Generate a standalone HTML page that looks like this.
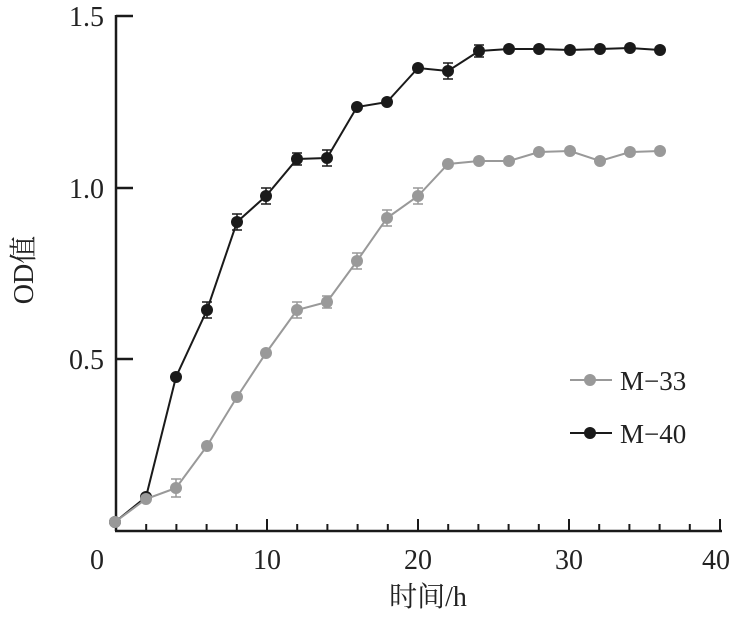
<!DOCTYPE html>
<html><head><meta charset="utf-8"><style>body{margin:0;background:#fff}svg{display:block}</style></head><body>
<svg width="737" height="630" xmlns="http://www.w3.org/2000/svg" font-family="'Liberation Serif','Noto Serif CJK SC',serif">
<g stroke="#1a1a1a" stroke-width="2.5" fill="none">
<line x1="116" y1="15" x2="116" y2="531"/>
<line x1="115" y1="531" x2="722" y2="531"/>
<line x1="116" y1="16" x2="133" y2="16"/>
<line x1="116" y1="188" x2="133" y2="188"/>
<line x1="116" y1="359" x2="133" y2="359"/>
</g>
<g stroke="#1a1a1a" stroke-width="2" id="ticks"></g>
<g font-size="28" fill="#222" text-anchor="end">
<text x="104" y="26">1.5</text><text x="104" y="198">1.0</text><text x="104" y="369">0.5</text></g>
<g font-size="28" fill="#222" text-anchor="middle">
<text x="97" y="569">0</text><text x="267" y="569">10</text><text x="418" y="569">20</text><text x="569" y="569">30</text><text x="716" y="569">40</text>
<text x="428" y="606">时间/h</text>
<text transform="translate(33,270) rotate(-90)">OD值</text></g>
<g id="s"></g>
<g font-size="27" fill="#222"><text x="620" y="390">M−33</text><text x="620" y="443">M−40</text></g>
<line x1="570" y1="380" x2="612" y2="380" stroke="#999" stroke-width="2"/><circle cx="590" cy="380" r="6" fill="#999"/>
<line x1="570" y1="433" x2="612" y2="433" stroke="#1a1a1a" stroke-width="2"/><circle cx="590" cy="433" r="6" fill="#1a1a1a"/>
<script>
var ns="http://www.w3.org/2000/svg",t=document.getElementById('ticks');
for(var i=1;i<=20;i++){var x=116+i*15.1*2,l=document.createElementNS(ns,'line');l.setAttribute('x1',x);l.setAttribute('x2',x);l.setAttribute('y1',531);l.setAttribute('y2',i%5==0?519:524);t.appendChild(l);}
var X=[115,146,176,207,237,266,297,327,357,387,418,448,479,509,539,570,600,630,660];
var A=[522,499,488,446,397,353,310,302,261,218,196,164,161,161,152,151,161,152,151];
var B=[522,497,377,310,222,196,159,158,107,102,68,71,51,49,49,50,49,48,50];
var EA=[0,3,7,3,3,3,6,4,6,6,6,3,3,3,3,3,3,3,3];
var EB=[0,3,3,6,6,6,4,6,3,3,3,6,4,3,3,3,3,3,3];
var g=document.getElementById('s');
function draw(Y,E,c){var p=X.map(function(x,i){return x+','+Y[i]}).join(' ');
var pl=document.createElementNS(ns,'polyline');pl.setAttribute('points',p);pl.setAttribute('fill','none');pl.setAttribute('stroke',c);pl.setAttribute('stroke-width','2');g.appendChild(pl);
X.forEach(function(x,i){var y=Y[i],d=E[i]+2;if(E[i]>3){var e=document.createElementNS(ns,'path');e.setAttribute('d','M'+(x-5)+' '+(y-d)+'h10M'+x+' '+(y-d)+'v'+(2*d)+'M'+(x-5)+' '+(y+d)+'h10');e.setAttribute('stroke',c);e.setAttribute('stroke-width','1.5');g.appendChild(e);}
var ci=document.createElementNS(ns,'circle');ci.setAttribute('cx',x);ci.setAttribute('cy',y);ci.setAttribute('r',6);ci.setAttribute('fill',c);g.appendChild(ci);});}
draw(B,EB,'#1a1a1a');draw(A,EA,'#999');
</script>
</svg>
</body></html>
